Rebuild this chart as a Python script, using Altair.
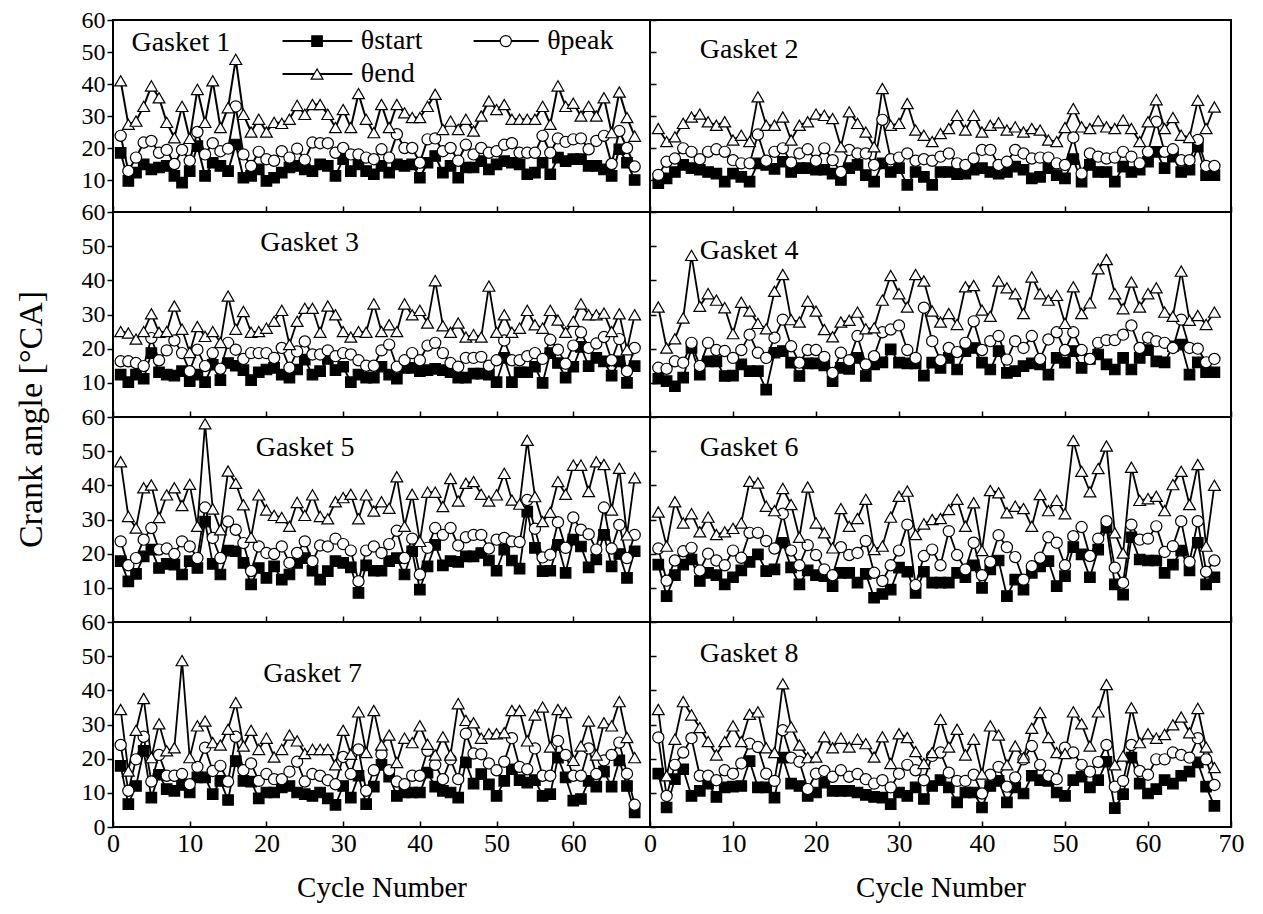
import altair as alt
import pandas as pd

cycles = list(range(1, 69))
series_order = ["θstart", "θpeak", "θend"]

g1_start = [18.5, 9.7, 12.3, 14.9, 13.3, 13.9, 14.4, 11.3, 9.2, 12.8, 20.6, 11.3, 15.4, 14.4, 12.8, 21.1, 10.7, 11.3, 13.3, 9.7, 10.7, 12.3, 13.9, 14.4, 13.3, 12.8, 14.9, 14.4, 11.3, 16.5, 12.8, 14.9, 12.8, 11.8, 14.4, 12.3, 14.9, 14.4, 14.9, 10.7, 15.4, 17.5, 12.3, 14.4, 10.7, 13.9, 13.9, 15.9, 13.3, 14.9, 15.9, 15.4, 14.9, 11.8, 12.3, 15.4, 11.8, 17, 15.9, 16.5, 16.5, 14.4, 14.4, 13.3, 11.3, 19.6, 15.4, 10]
g1_peak = [23.8, 12.8, 17, 21.7, 22.2, 18.5, 19.4, 15, 19.4, 16, 25, 18, 21.5, 19, 19.8, 33, 18, 14.4, 18.8, 16.5, 16, 19, 17, 19.8, 16.3, 21.7, 21.5, 21.5, 18.5, 20, 18, 18, 17, 16.5, 19.6, 17, 24.3, 20, 20, 15.4, 22.7, 23, 19, 20, 16, 21, 18, 20, 18.5, 19, 21, 21.5, 18.5, 18.5, 18.5, 23.8, 18.5, 23, 21.9, 22.7, 23, 19.6, 22.2, 23.8, 15, 25.3, 20, 14.2]
g1_end = [41, 27.4, 28.4, 33, 39.4, 35.7, 28, 23.2, 33, 23, 38.3, 28, 41, 26.4, 32.6, 47.7, 30.5, 25, 29, 25, 28, 27.7, 29, 33.3, 30.5, 33.6, 33.6, 30.5, 26.4, 32, 26.4, 37, 29, 24.8, 33.6, 26.4, 33.6, 31, 29.5, 29.5, 33, 36.8, 25.8, 28.4, 25.8, 29, 25.3, 30, 34.7, 32, 33.6, 29, 29, 29, 29, 33, 27.4, 39.4, 33, 34, 30, 33, 30, 35.7, 24.8, 37.5, 29.5, 23.7]

g2_start = [9, 10.5, 12.5, 14.7, 13.7, 13.2, 12.5, 12, 9.5, 12, 11, 9.5, 15.2, 14.7, 13.5, 15.7, 12.5, 13.7, 13.7, 13.2, 13.2, 12, 10, 13.7, 14.7, 11.5, 9.5, 15.2, 12.5, 13.7, 8.5, 12.5, 11, 8.5, 12.5, 12.5, 11.8, 12, 13.2, 13.7, 12.5, 12, 12.5, 14.2, 13.2, 10.5, 11, 13.7, 11.5, 10.5, 16.5, 9.5, 14.7, 12.5, 12.5, 9.5, 14.2, 12.5, 13.2, 15.7, 18.8, 13.7, 17.3, 12.5, 13.2, 20.4, 11.5, 11.5]
g2_peak = [11.6, 15.7, 16.7, 19.9, 18.8, 16.5, 18.8, 19.6, 18.8, 16.2, 15.2, 15.2, 24.2, 16, 18.8, 19.9, 15.5, 18.3, 19.6, 16, 19.9, 16.2, 12.5, 19.4, 18.3, 18.3, 14.7, 28.8, 16.5, 17, 18.3, 16, 16.5, 16, 17.3, 18.3, 15.2, 14.7, 16.7, 19.4, 19.4, 14.7, 15.7, 19.4, 18.3, 16.7, 17, 17, 15.2, 14.7, 23.3, 12, 18.3, 17.3, 16.7, 17, 18.8, 17.3, 15.2, 18.8, 28.2, 18.8, 19.6, 16.2, 16.2, 22.5, 14.4, 14.4]
g2_end = [26.1, 22, 23.5, 27.7, 29.7, 30.6, 28.2, 27.1, 28.2, 22.5, 24, 22, 36, 27.1, 27.1, 29.7, 22.5, 27.1, 28.2, 30.6, 30.2, 29.2, 20.4, 31.3, 27.7, 25, 20.4, 38.6, 27.1, 27.7, 33.9, 25.6, 24, 22, 24.5, 26.1, 30.2, 25.6, 30.2, 25, 27.1, 27.9, 25.6, 26.6, 25, 26.1, 25.6, 22.5, 22, 26.4, 32.3, 26.6, 26.1, 28.5, 26.6, 26.1, 28.7, 26.1, 22, 28.2, 35.1, 26.1, 29.5, 24, 23.3, 34.9, 26.1, 32.8]

g3_start = [12.4, 10.2, 12.4, 11.2, 18.7, 13.1, 12.4, 12.1, 13.4, 10.5, 12.4, 10.2, 15.3, 10.8, 15.8, 15, 13.7, 10.8, 13.1, 13.9, 14.4, 12.4, 11.5, 13.9, 16.8, 12.4, 13.4, 17, 13.7, 14.7, 10.2, 12.4, 11.5, 11.5, 14.7, 12.4, 11.2, 14.4, 14.4, 13.4, 13.7, 14.1, 13.7, 13.1, 11.5, 11.5, 12.7, 12.7, 12.4, 10.2, 17.3, 10.2, 13.1, 13.1, 14.7, 10, 18.7, 15.8, 11.5, 14.7, 20.5, 14.9, 17.3, 16.3, 12.1, 16.3, 10, 14.9]
g3_peak = [16.3, 16.3, 15.8, 14.9, 23.1, 16.6, 19.5, 22.4, 18.7, 13.4, 19.7, 14.9, 18.7, 14.1, 21.7, 19.7, 17, 18.7, 18.7, 18.7, 17.3, 20.2, 14.4, 19.2, 22.1, 18.3, 18.3, 19.5, 17.8, 18.7, 18.3, 16.6, 15, 15, 19.5, 21.2, 14.7, 16.6, 18.7, 16.6, 20.9, 21.7, 18.7, 15.8, 14.7, 17.3, 17.3, 17.6, 15, 16.6, 22.4, 16.6, 16.6, 17.8, 18.7, 17, 22.6, 19.7, 15.6, 20.9, 24.8, 20.2, 21.5, 23.4, 16.6, 22.8, 13.4, 20.2]
g3_end = [25, 24.6, 22.8, 25, 30.2, 24.8, 25, 32.5, 25.7, 18.9, 26.5, 23.6, 25, 21.8, 35.4, 25.7, 30.9, 24.8, 25, 26, 28, 31.2, 21.2, 28, 31.8, 31.8, 24.8, 32.5, 29.9, 25, 23.4, 25, 24.8, 33.1, 25, 27, 25, 33.1, 29.9, 31.2, 27.5, 39.9, 26.7, 24.8, 27.5, 23.4, 24.1, 23.4, 38.3, 24.8, 29.9, 24.8, 26, 31.2, 27, 26, 31.2, 28.4, 24.8, 28, 33.1, 29.9, 29.9, 30.4, 25, 30.2, 19.7, 29.9]

g4_start = [11.2, 10.5, 9, 11.5, 20.2, 12.4, 16.3, 16.3, 12, 12.1, 15.4, 13.4, 13.4, 8, 18.8, 19.3, 15.9, 12, 15.7, 15.7, 15.1, 10.5, 14.4, 14.1, 17.3, 12, 15.4, 16, 19.8, 15.9, 15.7, 15.7, 12.1, 15.9, 14.4, 17.3, 13.9, 19.3, 20.2, 15.9, 13.9, 19.3, 12.9, 13.4, 14.9, 15.7, 15.4, 12.4, 17.3, 15.9, 19.3, 14.4, 17, 18.3, 15.4, 13.9, 17.3, 13.9, 17.3, 19.6, 16.3, 16, 20.7, 21.2, 12.4, 16, 13.1, 13.1]
g4_peak = [14.4, 14.1, 16.3, 15.9, 21.7, 14.9, 21.7, 19.6, 19.3, 17.3, 19.6, 24.1, 18.8, 17.3, 23.2, 28.5, 20.7, 15.9, 19.6, 19.6, 17.6, 12.9, 18.8, 16.6, 23.7, 15.4, 17.8, 24.8, 25.6, 26.8, 19.6, 17.3, 32, 22.2, 16.6, 20.2, 19, 21.7, 28, 19.6, 22.2, 23.7, 16.8, 22.2, 20.2, 23.7, 17, 22.7, 24.8, 19.6, 24.8, 19.6, 17, 21.7, 22.5, 22.5, 24.1, 26.8, 20.2, 23.2, 22.2, 21.7, 20.2, 28.5, 20.2, 20, 16, 17]
g4_end = [32.2, 20.2, 22.9, 29, 47.3, 32.4, 36.1, 34.2, 32, 24.4, 33.6, 31, 27.4, 25.8, 36.8, 41.7, 28.5, 27.8, 33.9, 31, 25.6, 23.5, 27.8, 28.3, 30.7, 25.8, 26.1, 34.2, 41.4, 36.1, 32.2, 41.7, 39.8, 31, 27.8, 30.3, 27.1, 38.1, 38.5, 31.3, 29.5, 39.8, 37.8, 36.1, 30.3, 41, 36.1, 34.2, 35.6, 27.4, 38.1, 30.3, 33.4, 43.4, 46.1, 36.1, 31.7, 39.5, 32.2, 36.1, 37.8, 30.7, 29.5, 42.7, 28.3, 29.7, 27.1, 30.7]

g5_start = [17.8, 11.9, 14.1, 19.2, 21.2, 15.8, 17, 16.8, 13.9, 17.8, 15.8, 29.4, 17, 13.9, 20.9, 20.7, 17.3, 11, 15.8, 12.9, 16.3, 12.4, 13.9, 17.3, 18.7, 15, 12.4, 14.9, 17.8, 17.3, 16, 8.5, 16.6, 15, 15, 17.8, 18.7, 13.9, 20.7, 9.5, 16.3, 22.6, 16.6, 17.8, 17.6, 19.2, 19.2, 20.2, 18, 15, 21.2, 18, 15.6, 32.3, 21.7, 14.9, 15, 22.6, 14.4, 24.1, 22.1, 16, 18.3, 25.5, 16.3, 19.9, 12.9, 20.7]
g5_peak = [23.6, 16.6, 18.7, 24.1, 27.5, 21.2, 21.5, 19.9, 23.6, 22.1, 18.7, 33.5, 24.6, 18.7, 29.4, 27, 23.1, 14.9, 22.1, 20.2, 19.9, 22.1, 17.3, 20.2, 23.6, 17.8, 22.4, 22.1, 24.4, 22.8, 20.9, 11.9, 20.9, 22.1, 20.2, 22.8, 26.7, 18.7, 24.4, 13.9, 21.7, 27.5, 25.5, 27.5, 22.4, 24.8, 25.5, 25.5, 21.5, 24.1, 24.6, 23.6, 23.4, 35.7, 27.3, 18.9, 19.7, 29.2, 21.7, 30.6, 27, 25.7, 21.2, 33.5, 21.5, 28.4, 18.7, 25.5]
g5_end = [46.9, 30.9, 27.5, 39.3, 40.1, 30.6, 37.2, 39.3, 34.1, 40.3, 28, 58, 33.1, 27, 44.2, 40.6, 34.3, 24.8, 37.2, 32.8, 31.2, 30.6, 28, 35, 31.2, 37.2, 30.9, 30.2, 35.2, 36.4, 37.4, 30.2, 37.2, 32.5, 35.2, 33.3, 42.5, 28, 37.4, 23.6, 38, 38, 33.8, 42, 35.4, 40.6, 41.1, 37.4, 35.4, 37.2, 43.5, 35.7, 34.5, 53.2, 36.7, 29.4, 32.1, 41.1, 37.4, 45.9, 45.9, 38.2, 46.9, 46.1, 32.8, 45, 25.5, 42.2]

g6_start = [16.8, 7.6, 13.7, 16.8, 18.3, 12, 14.4, 13.7, 11, 13.1, 15.1, 17.6, 19.8, 14.9, 15.4, 23.2, 16, 11, 15.1, 13.7, 13.4, 10.5, 14.4, 14.4, 11.5, 14.1, 7.1, 8.2, 9.5, 15.9, 14.7, 8.5, 14.7, 11.5, 11.5, 11.5, 14.4, 13.1, 16.6, 10, 15.4, 18, 7.6, 12.4, 9.5, 14.4, 16.3, 17.8, 10.5, 13.4, 21.9, 19.8, 13.1, 21.2, 27.6, 11, 8, 24.8, 18.3, 18, 18, 14.4, 16.8, 20.9, 15.1, 23.2, 11, 13.1]
g6_peak = [21.5, 12.1, 18, 20.7, 21.7, 15.1, 20, 18, 16.6, 20.9, 18.8, 26.1, 26.1, 23.7, 21.5, 31.7, 20.9, 16.6, 22.5, 19.6, 15.4, 13.7, 21.9, 19.6, 20.2, 23.7, 14.4, 12, 16.6, 20.9, 28.5, 10.8, 19.3, 21.2, 16.6, 26.6, 19.6, 15.4, 23.2, 13.7, 17.6, 25.4, 21.9, 19, 12.4, 16.3, 18.8, 24.8, 23.2, 16.6, 25.1, 27.8, 19.3, 24.4, 29.5, 15.9, 11.5, 28.5, 24.1, 24.4, 28, 20.5, 22.2, 29.5, 17.6, 29.5, 14.7, 18]
g6_end = [32.2, 22.2, 35.2, 29, 31.7, 26.4, 30.7, 25.6, 26.4, 27.4, 29, 41.2, 40.7, 33.9, 32.6, 39.1, 34.4, 24.8, 39.5, 29, 26.1, 21.7, 33.2, 28, 30.3, 35.9, 21.2, 22.2, 30.7, 36.8, 38.3, 25.6, 28.7, 30, 30.3, 32.9, 35.9, 28, 34.9, 20.9, 38.5, 37.8, 32, 33.9, 33.2, 28, 37.3, 32.6, 35.6, 31.7, 53.1, 44.1, 38.1, 44.9, 51.5, 26.1, 20.2, 45.3, 35.6, 36.1, 36.8, 32.6, 40.2, 44.1, 34.4, 46.1, 22.2, 40]

g7_start = [17.9, 6.7, 12, 22.3, 8.6, 15.3, 11.1, 10.6, 12.3, 10.1, 14.5, 14.5, 9.6, 13.5, 7.9, 19.3, 13.5, 13.3, 8.4, 10.1, 10.1, 11.6, 12, 10.1, 9.6, 9.1, 10.1, 8.4, 6.5, 12, 8.6, 15, 6.7, 11.8, 18.2, 14.7, 9.1, 10.1, 10.1, 10.1, 15.9, 11.8, 10.6, 10.1, 8.6, 18.9, 12.7, 15.5, 12.5, 9.1, 13.5, 16.9, 13.7, 13, 13.7, 9.1, 9.6, 20.3, 14.5, 7.7, 8.2, 13.5, 11.8, 16.2, 11.8, 19.5, 12, 4.3]
g7_peak = [24, 10.6, 19.8, 26.4, 13.3, 21.1, 15, 15, 15.5, 12.5, 17.6, 23.2, 16.4, 17.9, 13.3, 26.4, 16.6, 18.6, 13.5, 15.5, 14, 14, 16.2, 19.1, 13.3, 15.5, 15, 13.7, 12.5, 20.5, 15.5, 22.7, 10.6, 16.6, 21.3, 16.6, 13.3, 12.5, 15, 15, 22.3, 18.2, 14, 19.8, 14, 27.3, 21.5, 21.3, 18.6, 16.6, 19.1, 26, 17.6, 16.9, 23, 15, 15, 25.2, 21.1, 15, 15, 23, 15.5, 19.5, 21.1, 24.7, 15.6, 6.5]
g7_end = [34.4, 16.4, 28.3, 37.6, 20.3, 30.2, 22.3, 23.2, 48.7, 20.3, 29.6, 31, 24.7, 24, 28.6, 36.4, 23.7, 28.3, 22.7, 26, 20.5, 22.7, 26.9, 25.2, 21.5, 22.7, 22.7, 22.7, 18.2, 28.3, 21.3, 33.7, 21.8, 34.1, 24, 26.9, 18.9, 26, 24.7, 29.6, 24.2, 21.1, 26.4, 21.1, 36.1, 31.2, 30.5, 26, 27.3, 27.3, 27.6, 34.1, 34.1, 25.2, 32.8, 35.1, 23.4, 34.4, 33.5, 19.5, 23.7, 31, 21.1, 30.5, 29.6, 36.7, 26.2, 20.3]

g8_start = [15.6, 5.7, 14, 16.9, 9.1, 10.6, 12.7, 8.8, 11.6, 11.8, 12, 19.3, 11.6, 11.6, 8.6, 20.3, 12.7, 12, 9.1, 10.1, 13, 10.6, 10.6, 10.6, 10.1, 9.4, 8.8, 8.6, 6.7, 10.1, 9.1, 11.6, 8.2, 12, 13.7, 11.6, 7.2, 10.1, 10.1, 5.7, 12, 13.5, 7.2, 11.6, 9.8, 15, 13.7, 13.5, 10.1, 9.1, 13.7, 14.7, 11.6, 13.7, 19.1, 5.5, 9.6, 20.3, 12.7, 9.8, 11.1, 13.7, 12.7, 15, 16.2, 18.9, 11.8, 6.2]
g8_peak = [26.2, 9.1, 18.2, 21.8, 26, 15, 15, 13.7, 16.6, 15.6, 18.6, 24.4, 23.4, 15.6, 13.5, 28.3, 20.3, 19.1, 11.1, 15.6, 16.4, 14.7, 16.6, 14.7, 15.5, 14, 12.7, 13.7, 11.6, 15.6, 18.2, 16.6, 13.7, 20.8, 21.8, 15.9, 13.5, 13.5, 15.3, 9.8, 15.3, 17.6, 11.8, 14.5, 19.8, 23.7, 18.2, 15, 14, 23.2, 21.8, 18.2, 16.2, 19, 24, 11.8, 13.5, 24, 16.4, 15.3, 19.8, 19.8, 21.8, 21.1, 20.3, 26, 19.8, 12.3]
g8_end = [34.4, 15, 25.7, 36.7, 32.8, 29.1, 25, 21.1, 25, 29.6, 25, 33, 33.7, 23.2, 21.8, 41.9, 29.3, 24, 20.3, 20.5, 26.4, 23.2, 26, 23.4, 25.7, 24.4, 20.5, 26.4, 18.6, 27.3, 26.2, 22.1, 18.6, 21.8, 31.5, 23.4, 28.6, 21.1, 25.7, 15.5, 29.6, 26.9, 18.2, 23.7, 20.3, 28.9, 33.5, 26.2, 21.8, 21.5, 33.7, 30.2, 23.7, 33.7, 41.7, 18.2, 20.8, 34.9, 24.7, 27.3, 26, 27.1, 29.9, 32.2, 27.6, 34.7, 23.4, 17.4]

gasket_series = {
    1: (g1_start, g1_peak, g1_end),
    2: (g2_start, g2_peak, g2_end),
    3: (g3_start, g3_peak, g3_end),
    4: (g4_start, g4_peak, g4_end),
    5: (g5_start, g5_peak, g5_end),
    6: (g6_start, g6_peak, g6_end),
    7: (g7_start, g7_peak, g7_end),
    8: (g8_start, g8_peak, g8_end),
}

# panel label positions (data units)
label_x = {1: 2.4, 2: 6.0, 3: 19.2, 4: 6.0, 5: 18.6, 6: 6.0, 7: 19.6, 8: 6.0}
label_y = {1: 52.8, 2: 50.6, 3: 51.0, 4: 48.6, 5: 50.9, 6: 51.0, 7: 44.8, 8: 50.7}

# legend entries inside Gasket 1 panel (data units)
leg_x0 = [22.1, 47.0, 22.1]
leg_x1 = [31.2, 55.5, 31.2]
leg_xm = [26.6, 51.2, 26.6]
leg_xt = [32.3, 56.6, 32.3]
leg_y = [53.4, 53.4, 43.1]

FONT = "Liberation Serif"
shape_scale = alt.Scale(domain=series_order, range=["square", "circle", "triangle-up"])
fill_scale = alt.Scale(domain=series_order, range=["black", "white", "white"])
x_scale = alt.Scale(domain=[0, 70], nice=False, zero=False)
y_scale = alt.Scale(domain=[0, 60], nice=False)


def make_df(g):
    recs = []
    for name, vals in zip(series_order, gasket_series[g]):
        for c, v in zip(cycles, vals):
            recs.append({"cycle": c, "series": name, "value": v})
    return pd.DataFrame(recs)


def panel(g, col, row):
    width = 537 if col == 0 else 581
    height = 192 if row == 0 else 205
    bottom = row == 3
    big = g == 1
    df = make_df(g)

    x_vals = list(range(0, 70, 10)) if col == 0 else list(range(0, 80, 10))
    x_axis_kwargs = dict(
        values=x_vals, labels=bottom, ticks=True, tickSize=6, offset=-6,
        tickColor="black", tickWidth=1.5, domain=False, grid=False,
        labelFont=FONT, labelFontSize=26, labelColor="black",
        labelFlush=False, labelPadding=3, labelOverlap=False, labelBound=False,
    )
    if bottom:
        x_axis_kwargs.update(
            title="Cycle Number", titleFont=FONT, titleFontSize=29,
            titleFontWeight="normal", titleColor="black",
            titleY=66, titleBaseline="middle",
        )
    else:
        x_axis_kwargs.update(title=None)
    x_axis = alt.Axis(**x_axis_kwargs)

    y_vals = list(range(0, 70, 10)) if bottom else list(range(10, 70, 10))
    if col == 0:
        y_axis_kwargs = dict(
            values=y_vals, tickSize=6, tickColor="black", tickWidth=1.5,
            domain=False, grid=False, labelFont=FONT, labelFontSize=24,
            labelColor="black", labelPadding=2, labelFlush=False,
            labelOverlap=False, labelBound=False,
        )
        if row == 1:
            y_axis_kwargs.update(
                title="Crank angle [°CA]", titleFont=FONT, titleFontSize=34,
                titleFontWeight="normal", titleColor="black",
                titleX=-82, titleY=207, titleAlign="center", titleBaseline="middle",
            )
        else:
            y_axis_kwargs.update(title=None)
    else:
        y_axis_kwargs = dict(
            values=y_vals, labels=False, tickSize=6, offset=-6,
            tickColor="black", tickWidth=1.5, domain=False, grid=False, title=None,
        )
    y_axis = alt.Axis(**y_axis_kwargs)

    def X(field):
        return alt.X(field, scale=x_scale, axis=x_axis)

    def Y(field):
        return alt.Y(field, scale=y_scale, axis=y_axis)

    base = alt.Chart(df)
    lines = base.mark_line(color="black", strokeWidth=2 if big else 1.8).encode(
        x=X("cycle:Q"), y=Y("value:Q"), detail="series:N"
    )
    sizes = [110, 140, 190] if big else [40, 50, 75]
    pts = base.mark_point(filled=True, stroke="black", strokeWidth=1.2, opacity=1).encode(
        x=X("cycle:Q"), y=Y("value:Q"),
        shape=alt.Shape("series:N", scale=shape_scale, legend=None),
        fill=alt.Fill("series:N", scale=fill_scale, legend=None),
        size=alt.Size("series:N", scale=alt.Scale(domain=series_order, range=sizes), legend=None),
    )
    lab_df = pd.DataFrame({"cycle": [label_x[g]], "value": [label_y[g]], "t": [f"Gasket {g}"]})
    lab = alt.Chart(lab_df).mark_text(
        font=FONT, fontSize=28, align="left", baseline="middle", color="black"
    ).encode(x=X("cycle:Q"), y=Y("value:Q"), text="t:N")

    layers = [lines, pts, lab]
    if big:
        leg_df = pd.DataFrame({
            "series": series_order, "x0": leg_x0, "x1": leg_x1,
            "xm": leg_xm, "xt": leg_xt, "y": leg_y,
        })
        leg_base = alt.Chart(leg_df)
        leg_rule = leg_base.mark_rule(color="black", strokeWidth=2).encode(
            x=X("x0:Q"), x2="x1:Q", y=Y("y:Q")
        )
        leg_pts = leg_base.mark_point(filled=True, stroke="black", strokeWidth=1.2, opacity=1).encode(
            x=X("xm:Q"), y=Y("y:Q"),
            shape=alt.Shape("series:N", scale=shape_scale, legend=None),
            fill=alt.Fill("series:N", scale=fill_scale, legend=None),
            size=alt.Size("series:N", scale=alt.Scale(domain=series_order, range=[190, 200, 330]), legend=None),
        )
        leg_txt = leg_base.mark_text(
            font=FONT, fontSize=28, align="left", baseline="middle", color="black"
        ).encode(x=X("xt:Q"), y=Y("y:Q"), text="series:N")
        layers += [leg_rule, leg_pts, leg_txt]

    return alt.layer(*layers).properties(width=width, height=height)


panels = []
for r in range(4):
    panels.append(panel(2 * r + 1, 0, r))
    panels.append(panel(2 * r + 2, 1, r))

chart = alt.concat(*panels, columns=2, spacing=0, bounds="flush").properties(
    padding={"left": 13, "top": 7, "right": 5, "bottom": 5},
    background="white",
).configure_view(stroke="black", strokeWidth=2)

chart.save("out.html", embed_options={"renderer": "svg", "actions": False})
